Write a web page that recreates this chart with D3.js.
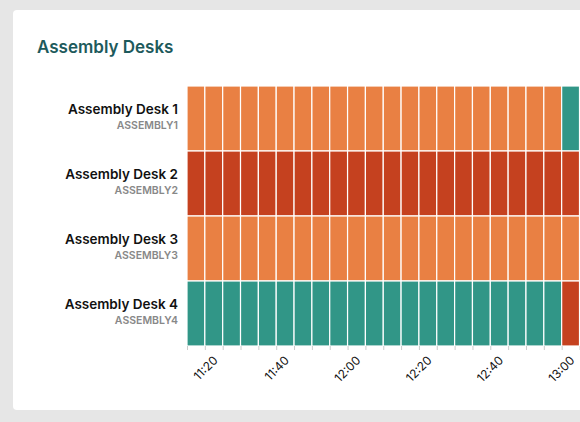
<!DOCTYPE html>
<html><head><meta charset="utf-8">
<script src="https://cdn.jsdelivr.net/npm/d3@7"></script>
<style>
body{margin:0;background:#e6e6e6;font-family:Inter,"Open Sans",sans-serif;overflow:hidden}
</style></head><body>
<svg id="c" width="580" height="422"></svg>
<script>
const desks = ["Assembly Desk 1","Assembly Desk 2","Assembly Desk 3","Assembly Desk 4"];
const ids = ["ASSEMBLY1","ASSEMBLY2","ASSEMBLY3","ASSEMBLY4"];
const times = ["11:15","11:20","11:25","11:30","11:35","11:40","11:45","11:50","11:55","12:00","12:05","12:10","12:15","12:20","12:25","12:30","12:35","12:40","12:45","12:50","12:55","13:00"];
// status per desk per time slot: "busy" (orange), "down" (red), "idle" (teal)
const status1 = ["busy","busy","busy","busy","busy","busy","busy","busy","busy","busy","busy","busy","busy","busy","busy","busy","busy","busy","busy","busy","busy","idle"];
const status2 = ["down","down","down","down","down","down","down","down","down","down","down","down","down","down","down","down","down","down","down","down","down","down"];
const status3 = ["busy","busy","busy","busy","busy","busy","busy","busy","busy","busy","busy","busy","busy","busy","busy","busy","busy","busy","busy","busy","busy","busy"];
const status4 = ["idle","idle","idle","idle","idle","idle","idle","idle","idle","idle","idle","idle","idle","idle","idle","idle","idle","idle","idle","idle","idle","down"];
const tickLabels = ["11:20","11:40","12:00","12:20","12:40","13:00"];
const statuses = [status1,status2,status3,status4];
const colors = {busy:"#e98043",down:"#c5411f",idle:"#319687"};

const svg = d3.select("#c");
svg.append("rect").attr("x",13).attr("y",10).attr("width",600).attr("height",400).attr("rx",4).attr("fill","#fff");
svg.append("text").attr("x",37).attr("y",53).attr("font-size",17).attr("font-weight",600).attr("fill","#1d5a5c").text("Assembly Desks");

const parse = d3.timeParse("%H:%M");
const t0 = parse("11:15"), t1 = parse("13:05");
const x = d3.scaleTime().domain([t0,t1]).range([187,563+16.5]);
const y = d3.scaleBand().domain(desks).range([86,346]);

const cells = [];
statuses.forEach((s,i)=>s.forEach((v,j)=>cells.push({desk:desks[i],t:parse(times[j]),v})));
svg.append("g").selectAll("rect").data(cells).join("rect")
  .attr("x",d=>x(d.t)).attr("y",d=>y(d.desk))
  .attr("width",d=>x(d3.timeMinute.offset(d.t,5))-x(d.t)).attr("height",y.bandwidth())
  .attr("fill",d=>colors[d.v]).attr("stroke","#fff").attr("stroke-width",1.2);

const labels = svg.append("g");
desks.forEach((d,i)=>{
  const cy = y(d)+y.bandwidth()/2;
  labels.append("text").attr("x",178).attr("y",cy-5).attr("text-anchor","end").attr("font-size",13.5).attr("font-weight",600).attr("fill","#111").text(d);
  labels.append("text").attr("x",178).attr("y",cy+10).attr("text-anchor","end").attr("font-size",10.5).attr("font-weight",600).attr("fill","#888").text(ids[i]);
});

const ax = svg.append("g").attr("transform","translate(0,346)")
  .call(d3.axisBottom(x).ticks(d3.timeMinute.every(5)).tickSize(4).tickFormat(d=>{const s=d3.timeFormat("%H:%M")(d);return tickLabels.includes(s)?s:"";}));
ax.select(".domain").remove();
ax.selectAll(".tick line").attr("stroke","#ccc");
ax.selectAll(".tick text").attr("font-size",12).attr("fill","#111").attr("font-family","Inter,sans-serif")
  .attr("text-anchor","end").attr("transform","translate(4,6) rotate(-45)").attr("dy","0.5em").attr("dx","0");
</script></body></html>
